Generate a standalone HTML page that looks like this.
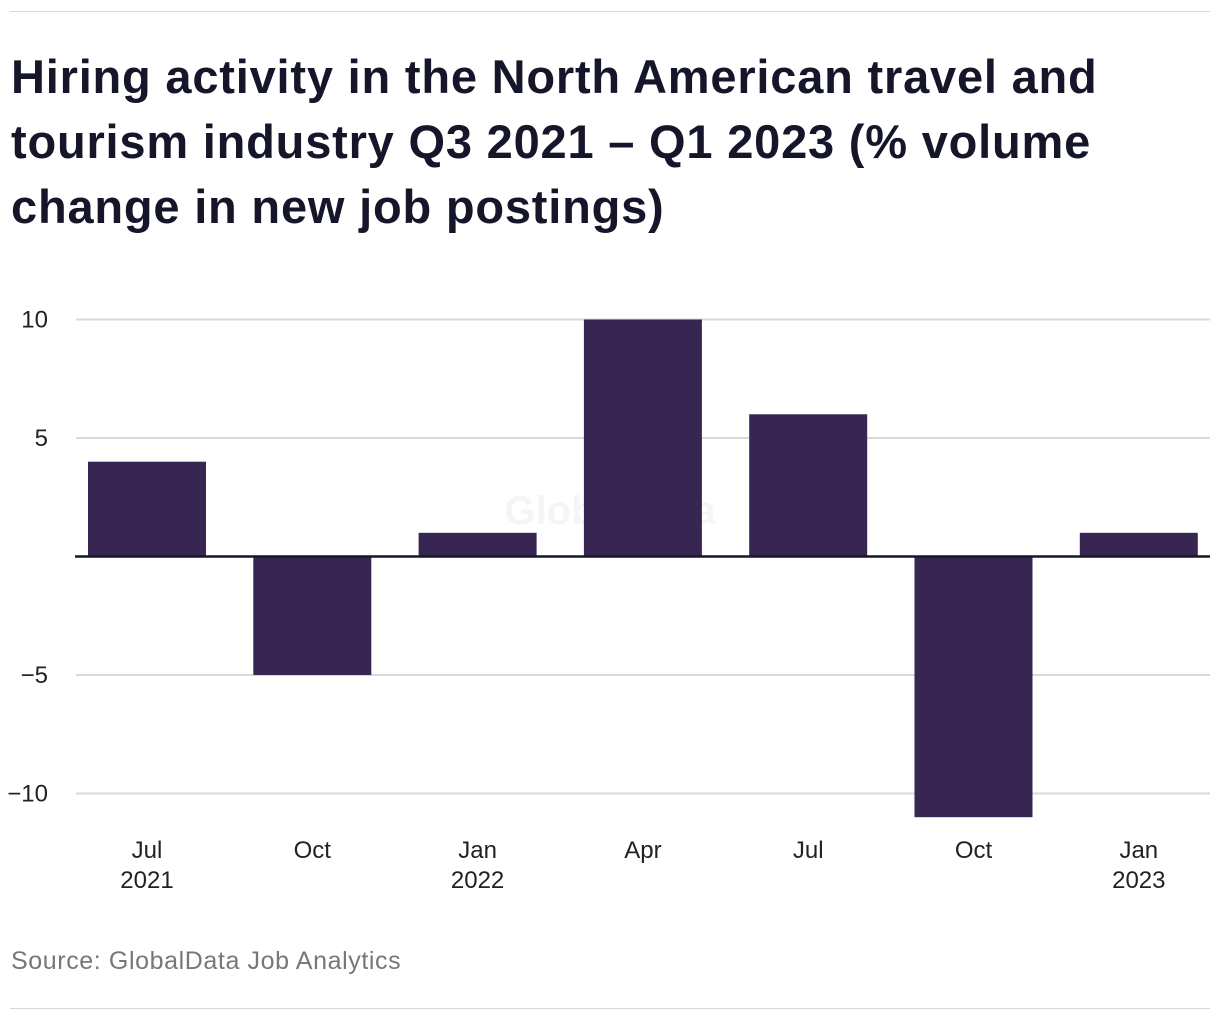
<!DOCTYPE html>
<html><head><meta charset="utf-8"><style>
body{margin:0;background:#fff;width:1220px;height:1020px;overflow:hidden;font-family:"Liberation Sans",sans-serif;}
.rule{position:absolute;left:10px;width:1200px;height:1px;background:#d6d6d6;}
#title{position:absolute;left:11px;top:44px;margin:0;font-size:47px;line-height:65px;font-weight:bold;color:#16162b;letter-spacing:0.8px;white-space:nowrap;}
#source{position:absolute;left:11px;top:947px;font-size:25px;color:#777;letter-spacing:0.6px;}
svg{position:absolute;left:0;top:0;}
</style></head><body>
<div class="rule" style="top:11px"></div>
<h1 id="title">Hiring activity in the North American travel and<br>tourism industry Q3 2021 – Q1 2023 (% volume<br>change in new job postings)</h1>
<svg id="chart" width="1220" height="1020"></svg>
<div id="source">Source: GlobalData Job Analytics</div>
<div class="rule" style="top:1008px"></div>
<script>
const categories=["Jul","Oct","Jan","Apr","Jul","Oct","Jan"];
const years=["2021","","2022","","","","2023"];
const values=[4,-5,1,10,6,-11,1];
const yTicks=[10,5,-5,-10];
const ns="http://www.w3.org/2000/svg";
const svg=document.getElementById('chart');
const y=v=>556.5-v*23.7;
const x=i=>147+i*165.3;
function mk(t,a){const e=document.createElementNS(ns,t);for(const k in a)e.setAttribute(k,a[k]);svg.appendChild(e);return e;}
const wm=mk('text',{x:610,y:524,'text-anchor':'middle','font-size':40,'font-weight':'bold',fill:'#f5f5f5','font-family':'Liberation Sans, sans-serif'});
wm.textContent='GlobalData';


yTicks.forEach(t=>{
  const l=mk('line',{x1:76,x2:1210,y1:y(t),y2:y(t),stroke:'#d9d9d9','stroke-width':2});
  
  
  const tx=mk('text',{x:48,y:y(t)+8,'text-anchor':'end','font-size':24,fill:'#222','font-family':'Liberation Sans, sans-serif'});
  tx.textContent=t<0?'−'+Math.abs(t):String(t);
  
  
});
values.forEach((v,i)=>{
  const top=Math.min(y(v),y(0)),h=Math.abs(y(v)-y(0));
  const r=mk('rect',{x:x(i)-59,y:top,width:118,height:h,fill:'#372652'});
  
  
  const t=mk('text',{x:x(i),y:858,'text-anchor':'middle','font-size':24,fill:'#222','font-family':'Liberation Sans, sans-serif'});
  t.textContent=categories[i];
  
  
  if(years[i]){
    const t2=mk('text',{x:x(i),y:888,'text-anchor':'middle','font-size':24,fill:'#222','font-family':'Liberation Sans, sans-serif'});
    t2.textContent=years[i];
    
    
  }
});
const z=mk('line',{x1:75,x2:1210,y1:y(0),y2:y(0),stroke:'#16162b','stroke-width':2.5});


</script>
</body></html>
